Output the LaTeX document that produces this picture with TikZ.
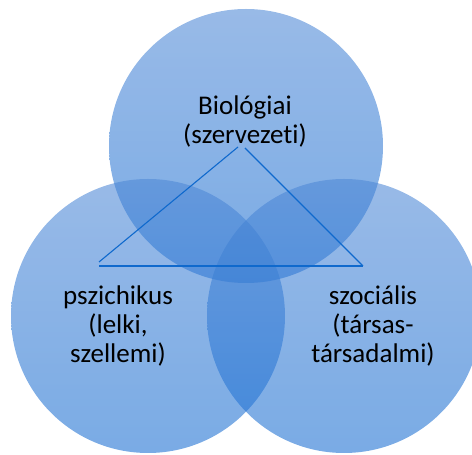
\documentclass[tikz,border=0pt]{standalone}
\usepackage{fontspec}
\setmainfont{Carlito}[Ligatures={NoCommon}]
\begin{document}
\begin{tikzpicture}[x=1pt,y=1pt,
  venn/.style={circle, minimum size=274pt, inner sep=0pt, fill opacity=0.58,
    top color=blueTop, bottom color=blueBot, draw=none},
  lbl/.style={align=center, font=\fontsize{27}{29}\selectfont, text=black, inner sep=0pt},
  tri/.style={draw=triLine, line width=1.1pt}]
\definecolor{blueTop}{RGB}{78,136,214}
\definecolor{blueBot}{RGB}{25,110,210}
\definecolor{triLine}{RGB}{15,105,205}
\useasboundingbox (0,0) rectangle (472,455);
\clip (0,0) rectangle (472,455);
\node[venn] (bio) at (246,309) {};
\node[venn] (psz) at (148,139) {};
\node[venn] (szo) at (344,139) {};
\node[lbl] (tbio) at (245,333) {Biológiai\\(szervezeti)};
\node[lbl] (tpsz) at (118,129) {pszichikus\\(lelki,\\szellemi)};
\node[lbl] (tszo) at (373,129) {szociális\\(társas-\\társadalmi)};
\coordinate (a1) at (238,308);
\coordinate (a2) at (245,307);
\coordinate (bl) at (99,193);
\coordinate (bl2) at (99,189);
\coordinate (br) at (363,189);
\draw[tri] (a1) -- (bl);
\draw[tri] (a2) -- (br);
\draw[tri] (bl2) -- (br);
\end{tikzpicture}
\end{document}
